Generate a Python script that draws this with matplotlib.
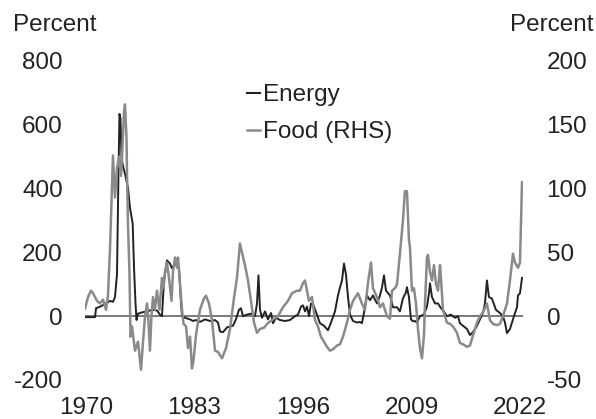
import matplotlib
matplotlib.use("Agg")
import matplotlib.pyplot as plt
from matplotlib.lines import Line2D

plt.rcParams['font.family'] = ['Liberation Sans', 'DejaVu Sans']
plt.rcParams['axes.unicode_minus'] = False

energy_years = [1969.88, 1970.48, 1971.08, 1971.20, 1971.68, 1972.28, 1972.87, 1973.23, 1973.47,
                1973.71, 1973.89, 1974.01, 1974.13, 1974.25, 1974.43, 1974.67, 1975.03, 1975.27,
                1975.59, 1975.75, 1975.93, 1976.05, 1976.23, 1976.71, 1977.31, 1977.90, 1978.50,
                1978.86, 1979.10, 1979.34, 1979.70, 1980.06, 1980.30, 1980.54, 1980.90, 1981.14,
                1981.38, 1981.50, 1981.86, 1982.46, 1982.81, 1983.17, 1983.65, 1984.25, 1984.85,
                1985.45, 1985.81, 1986.05, 1986.41, 1986.89, 1987.60, 1987.96, 1988.32, 1988.56,
                1988.80, 1989.28, 1989.76, 1990.24, 1990.48, 1990.66, 1990.84, 1991.08, 1991.44,
                1991.80, 1992.16, 1992.40, 1992.75, 1993.23, 1993.83, 1994.43, 1995.03, 1995.39,
                1995.75, 1995.99, 1996.23, 1996.47, 1996.71, 1996.95, 1997.19, 1997.66, 1998.02,
                1998.50, 1998.98, 1999.34, 1999.82, 2000.18, 2000.42, 2000.66, 2000.90, 2001.14,
                2001.38, 2001.62, 2001.98, 2002.46, 2002.81, 2003.05, 2003.29, 2003.65, 2004.01,
                2004.37, 2004.85, 2005.21, 2005.45, 2005.69, 2005.93, 2006.41, 2006.77, 2007.25,
                2007.60, 2007.96, 2008.32, 2008.44, 2008.68, 2008.92, 2009.16, 2009.40, 2009.64,
                2010.00, 2010.48, 2010.84, 2011.08, 2011.20, 2011.44, 2011.80, 2012.16, 2012.51,
                2012.75, 2013.23, 2013.71, 2014.19, 2014.55, 2014.79, 2015.15, 2015.63, 2015.99,
                2016.35, 2016.83, 2017.19, 2017.54, 2017.78, 2018.02, 2018.26, 2018.62, 2019.10,
                2019.58, 2019.94, 2020.18, 2020.42, 2020.78, 2021.26, 2021.62, 2021.74, 2021.98,
                2022.22]
energy_values = [-3, -3, -3, 25, 30, 38, 48, 45, 60,
                 130, 450, 634, 620, 498, 470, 446, 403, 340,
                 290, 153, 40, -12, 8, 12, 15, 20, 18,
                 5, 0, 110, 175, 165, 150, 160, 160, 150,
                 40, 0, -5, -10, -15, -12, -18, -10, -15,
                 -12, -20, -48, -50, -35, -30, -10, 20, 25,
                 0, 5, 8, 0, 40, 128, 20, -5, 15,
                 -10, 10, -22, -5, -12, -15, -12, 0, 5,
                 30, 34, 15, 30, 0, 40, 38, 5, -22,
                 -30, -44, -20, 15, 65, 90, 112, 165, 130,
                 60, 5, -15, -20, -18, -22, 10, 65, 50,
                 65, 40, 65, 90, 128, 80, 65, 28, 28,
                 15, 56, 75, 91, 60, -10, -16, -15, -20,
                 0, 5, 30, 72, 103, 60, 40, 40, 25,
                 19, 0, 5, -5, 0, -22, -30, -40, -59,
                 -50, -30, -10, 10, 40, 112, 60, 55, 20,
                 10, 0, -20, -53, -40, 0, 28, 65, 72,
                 120]

food_years = [1969.88, 1970.24, 1970.60, 1970.84, 1971.32, 1971.68, 1972.04, 1972.40, 1972.63,
              1972.87, 1973.11, 1973.23, 1973.47, 1973.71, 1973.95, 1974.19, 1974.31, 1974.55,
              1974.67, 1974.85, 1974.91, 1975.03, 1975.21, 1975.33, 1975.51, 1975.87, 1976.23,
              1976.59, 1976.83, 1977.07, 1977.31, 1977.49, 1977.66, 1977.84, 1978.02, 1978.26,
              1978.50, 1978.80, 1979.10, 1979.28, 1979.46, 1979.70, 1979.94, 1980.24, 1980.42,
              1980.66, 1980.90, 1981.02, 1981.26, 1981.50, 1981.68, 1981.98, 1982.22, 1982.46,
              1982.69, 1982.87, 1983.17, 1983.65, 1984.13, 1984.37, 1984.73, 1985.09, 1985.45,
              1985.81, 1986.29, 1986.77, 1987.25, 1987.72, 1988.08, 1988.44, 1988.68, 1989.04,
              1989.40, 1989.76, 1990.12, 1990.48, 1990.84, 1991.32, 1991.68, 1992.28, 1992.99,
              1993.59, 1994.19, 1994.67, 1995.27, 1995.63, 1995.99, 1996.23, 1996.47, 1996.71,
              1997.07, 1997.43, 1997.78, 1998.14, 1998.50, 1998.86, 1999.22, 1999.58, 2000.06,
              2000.42, 2000.78, 2001.26, 2001.62, 2001.98, 2002.57, 2003.05, 2003.41, 2003.77,
              2004.13, 2004.37, 2004.85, 2005.21, 2005.57, 2006.05, 2006.41, 2006.65, 2007.01,
              2007.25, 2007.60, 2007.96, 2008.20, 2008.44, 2008.68, 2008.80, 2009.04, 2009.28,
              2009.52, 2009.76, 2010.00, 2010.24, 2010.48, 2010.60, 2010.84, 2010.96, 2011.20,
              2011.44, 2011.68, 2011.92, 2012.16, 2012.40, 2012.51, 2012.75, 2013.23, 2013.59,
              2013.95, 2014.43, 2014.79, 2015.15, 2015.63, 2015.99, 2016.35, 2016.83, 2017.19,
              2017.54, 2018.02, 2018.38, 2018.74, 2019.22, 2019.58, 2019.94, 2020.42, 2020.78,
              2021.14, 2021.38, 2021.74, 2021.98, 2022.22]
food_values = [6, 15, 20, 18, 12, 10, 13, 5, 16,
               52, 100, 126, 93, 116, 125, 110, 124, 160,
               166, 140, 112, 72, 33, -16, -8, -27, -20,
               -42, -20, 0, 10, -5, -27, 0, 15, 5,
               20, 5, 30, 22, 35, 42, 30, 12, 35,
               46, 38, 46, 25, 5, -6, -8, -25, -16,
               -41, -35, -15, 5, 14, 16, 10, -3, -27,
               -28, -33, -25, -10, 14, 30, 57, 50, 40,
               28, 12, -5, -13, -10, -9, -6, -3, 0,
               7, 12, 18, 20, 20, 26, 28, 20, 12,
               15, -3, -8, -16, -20, -24, -27, -26, -23,
               -22, -16, -5, 5, 12, 18, 10, 5, 26,
               42, 22, 15, 7, 10, 0, -2, 20, 22,
               25, 49, 75, 98, 98, 60, 54, 20, 22,
               10, -10, -25, -33, -15, 10, 46, 48, 35,
               28, 40, 25, 20, 40, 30, 5, -5, -6,
               -8, -13, -21, -22, -24, -23, -15, -5, 0,
               3, 10, -3, -6, -7, -6, 0, 10, 28,
               49, 42, 38, 42, 105]

x_ticks = [1970, 1983, 1996, 2009, 2022]
left_ticks = [-200, 0, 200, 400, 600, 800]
right_ticks = [-50, 0, 50, 100, 150, 200]

energy_color = '#222222'
food_color = '#8a8a8a'
text_color = '#222222'
fs = 17.5

fig = plt.figure(figsize=(5.96, 4.19), dpi=100)
ax = fig.add_axes([85/596, 1 - 380/419, (523 - 85)/596, (380 - 61)/419])
ax2 = ax.twinx()

ax.axhline(0, color='#555555', lw=1.1, zorder=1)
ax.plot(energy_years, energy_values, color=energy_color, lw=1.4, zorder=2)
ax2.plot(food_years, food_values, color=food_color, lw=1.8, zorder=3)

ax.set_xlim(1969.88, 2022.34)
ax.set_ylim(-200, 800)
ax2.set_ylim(-50, 200)
ax.set_xticks(x_ticks)
ax.set_yticks(left_ticks)
ax2.set_yticks(right_ticks)
ax.set_xticklabels([str(t) for t in x_ticks])

for a in (ax, ax2):
    for s in a.spines.values():
        s.set_visible(False)
ax.tick_params(axis='y', length=0, pad=16, labelsize=fs, labelcolor=text_color)
ax.tick_params(axis='x', length=0, pad=12, labelsize=fs, labelcolor=text_color)
ax2.tick_params(axis='y', length=0, pad=17, labelsize=fs, labelcolor=text_color)

fig.text(13/596, 1 - 25/419, 'Percent', ha='left', va='center', fontsize=fs, color=text_color)
fig.text(593/596, 1 - 25/419, 'Percent', ha='right', va='center', fontsize=fs, color=text_color)

handles = [Line2D([], [], color=energy_color, lw=1.5), Line2D([], [], color=food_color, lw=1.8)]
fig.legend(handles, ['Energy', 'Food (RHS)'], loc='upper left',
           bbox_to_anchor=(247/596, 1 - 84/419), frameon=False, fontsize=fs,
           handlelength=0.55, handletextpad=0.1, borderaxespad=0, borderpad=0,
           labelspacing=0.62, labelcolor=text_color)

fig.savefig('out.png', dpi=100)
